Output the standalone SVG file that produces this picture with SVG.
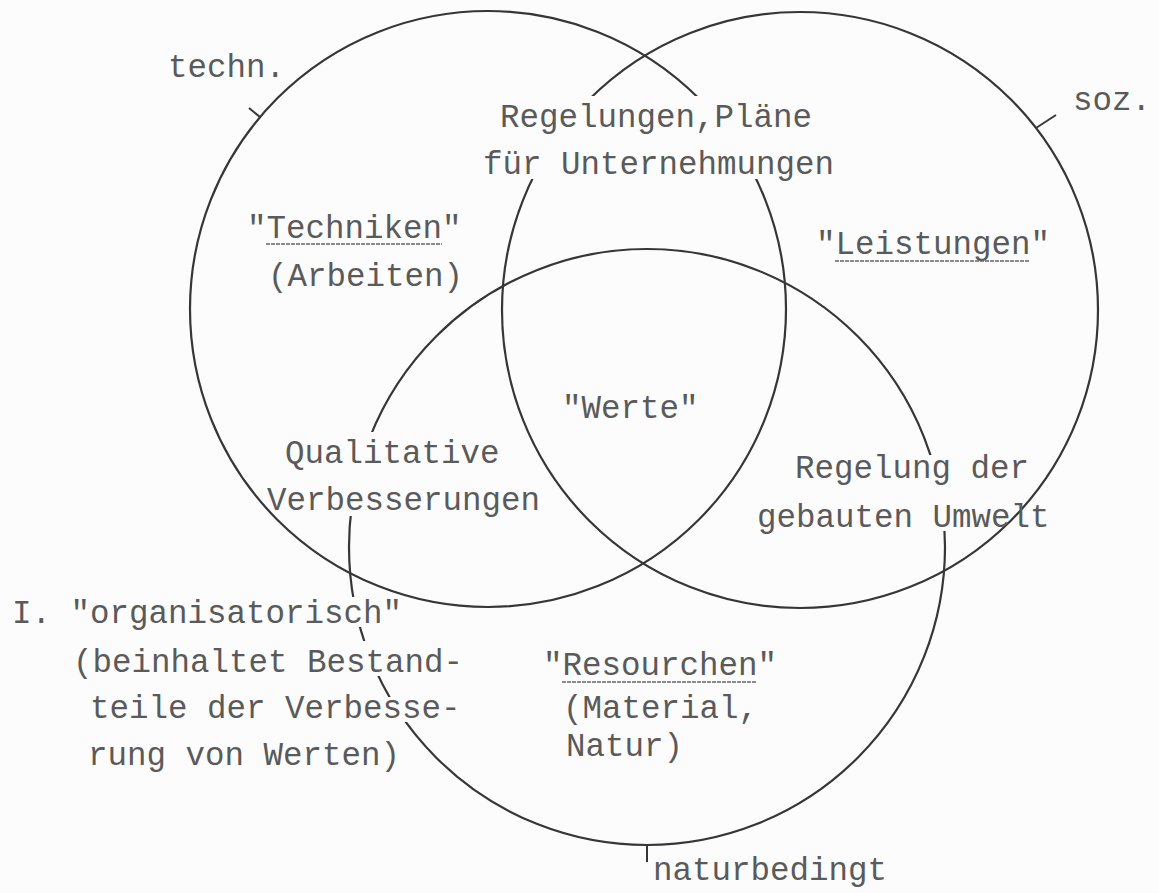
<svg xmlns="http://www.w3.org/2000/svg" width="1159" height="893" viewBox="0 0 1159 893">
  <style>
    .ring { fill: none; stroke: #363636; stroke-width: 2.2; }
    .tick { fill: none; stroke: #363636; stroke-width: 2; }
    .t { font-family: "Courier New", "Liberation Mono", monospace; font-size: 32.5px; fill: #5a5a5a; }
    .ul { stroke: #666666; stroke-width: 1.6; stroke-dasharray: 4 1; }
  </style>
  <defs>
    <mask id="gaps" maskUnits="userSpaceOnUse" x="0" y="0" width="1159" height="893">
      <rect x="0" y="0" width="1159" height="893" fill="#fff"/>
      <rect x="465" y="96" width="380" height="83" fill="#000"/>
      <rect x="330" y="432" width="70" height="84" fill="#000"/>
      <rect x="900" y="455" width="60" height="76" fill="#000"/>
      <rect x="0" y="597" width="408" height="30" fill="#000"/>
      <rect x="60" y="641" width="410" height="35" fill="#000"/>
      <rect x="80" y="697" width="390" height="25" fill="#000"/>
    </mask>
  </defs>
  <rect x="0" y="0" width="1159" height="893" fill="#fcfcfc"/>

  <g id="circle-techn" mask="url(#gaps)">
    <circle class="ring" cx="488" cy="309" r="298"/>
  </g>
  <g id="circle-soz" mask="url(#gaps)">
    <circle class="ring" cx="800" cy="310" r="298"/>
  </g>
  <g id="circle-natur" mask="url(#gaps)">
    <circle class="ring" cx="647" cy="547" r="298"/>
  </g>

  <g id="connectors">
    <line class="tick" x1="249" y1="108" x2="260" y2="117"/>
    <line class="tick" x1="1036" y1="128" x2="1056" y2="115"/>
    <line class="tick" x1="647" y1="845" x2="647" y2="862"/>
  </g>

  <g id="label-techn"><text class="t" x="168" y="77">techn.</text></g>
  <g id="label-soz"><text class="t" x="1073" y="110">soz.</text></g>
  <g id="label-natur"><text class="t" x="653" y="880">naturbedingt</text></g>

  <g id="region-regelungen">
    <text class="t" x="500" y="127">Regelungen,Pläne</text>
    <text class="t" x="483" y="174">für Unternehmungen</text>
  </g>
  <g id="region-techniken">
    <text class="t" x="247" y="238">"Techniken"</text>
    <line class="ul" x1="266" y1="244" x2="442" y2="244"/>
    <text class="t" x="268" y="286">(Arbeiten)</text>
  </g>
  <g id="region-leistungen">
    <text class="t" x="816" y="254">"Leistungen"</text>
    <line class="ul" x1="835" y1="261" x2="1030" y2="261"/>
  </g>
  <g id="region-werte">
    <text class="t" x="562" y="418">"Werte"</text>
  </g>
  <g id="region-qualitative">
    <text class="t" x="285" y="463">Qualitative</text>
    <text class="t" x="267" y="510">Verbesserungen</text>
  </g>
  <g id="region-umwelt">
    <text class="t" x="795" y="478">Regelung der</text>
    <text class="t" x="757" y="527">gebauten Umwelt</text>
  </g>
  <g id="region-resourchen">
    <text class="t" x="543" y="675">"Resourchen"</text>
    <line class="ul" x1="562" y1="682" x2="757" y2="682"/>
    <text class="t" x="563" y="718">(Material,</text>
    <text class="t" x="566" y="756">Natur)</text>
  </g>
  <g id="note-organisatorisch">
    <text class="t" x="12" y="623">I. "organisatorisch"</text>
    <text class="t" x="73" y="672">(beinhaltet Bestand-</text>
    <text class="t" x="90" y="718">teile der Verbesse-</text>
    <text class="t" x="88" y="765">rung von Werten)</text>
  </g>
</svg>
